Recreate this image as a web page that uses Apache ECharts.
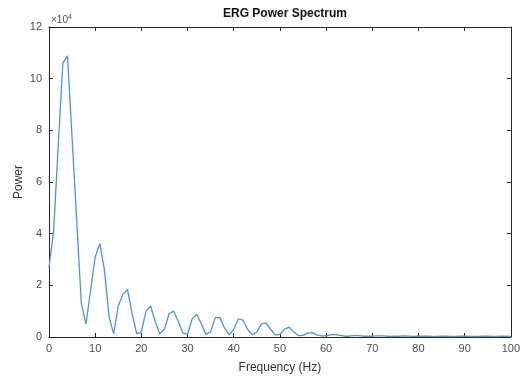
<!DOCTYPE html>
<html>
<head>
<meta charset="utf-8">
<script src="https://cdn.jsdelivr.net/npm/echarts@6/dist/echarts.min.js"></script>
<style>html,body{margin:0;padding:0;background:#fff;}#c{width:523px;height:379px;}</style>
</head>
<body>
<div id="c"></div>
<script>
// Frequency (Hz)
const freq = [0,1,2,3,4,5,6,7,8,9,10,11,12,13,14,15,16,17,18,19,20,21,22,23,24,25,26,27,28,29,30,31,32,33,34,35,36,37,38,39,40,41,42,43,44,45,46,47,48,49,50,51,52,53,54,55,56,57,58,59,60,61,62,63,64,65,66,67,68,69,70,71,72,73,74,75,76,77,78,79,80,81,82,83,84,85,86,87,88,89,90,91,92,93,94,95,96,97,98,99,100];
// Power
const power = [27000,41000,74000,106000,108800,77000,45000,13000,5000,18000,31000,36200,26000,8000,1200,12000,16500,18400,9000,1200,2000,10000,12000,6000,1200,3000,9000,10000,6000,1500,1000,7000,8800,5000,1000,2000,7500,7500,3500,800,3000,7000,6500,3000,800,2000,5000,5500,3000,800,1000,3000,3800,2000,500,600,1500,1700,800,400,400,800,1000,600,300,300,500,500,300,300,300,400,400,300,200,300,300,400,300,200,300,300,300,200,200,300,300,200,200,300,300,200,200,200,300,300,200,200,300,300,200];
const xTicks = [0,10,20,30,40,50,60,70,80,90,100];
const yTicks = [0,2,4,6,8,10,12];
const yExp = 4;

const chart = echarts.init(document.getElementById('c'));
const axisCol = '#262626';
const labCol = '#4d4d4d';
const font = 'Liberation Sans, Arial';
const data = freq.map((f,i)=>[f,power[i]]);
const line = {show:true,onZero:false,lineStyle:{color:axisCol,width:1}};
const tick = {show:true,inside:true,length:4,lineStyle:{color:axisCol}};
chart.setOption({
  animation:false,
  backgroundColor:'#fff',
  title:{text:'ERG Power Spectrum',left:280,top:3,textAlign:'center',
    textStyle:{fontSize:12,fontWeight:'bold',color:'#111',fontFamily:font}},
  grid:{left:49,right:11,top:27,bottom:42},
  xAxis:[{
    type:'value',min:0,max:100,interval:10,position:'bottom',
    name:'Frequency (Hz)',nameLocation:'middle',nameGap:25,nameMoveOverlap:false,
    nameTextStyle:{fontSize:12,color:'#333',fontFamily:font},
    axisLine:line,axisTick:tick,
    axisLabel:{color:labCol,fontSize:11,margin:6,fontFamily:font,
      formatter:v=>xTicks.includes(v)?String(v):''},
    splitLine:{show:false}
  },{
    type:'value',min:0,max:100,interval:10,position:'top',
    axisLine:line,axisTick:tick,
    axisLabel:{show:false},splitLine:{show:false}
  }],
  yAxis:[{
    type:'value',min:0,max:120000,interval:20000,position:'left',
    name:'Power',nameLocation:'middle',nameGap:24,nameMoveOverlap:false,
    nameTextStyle:{fontSize:12,color:'#333',fontFamily:font},
    axisLine:line,axisTick:tick,
    axisLabel:{color:labCol,fontSize:11,margin:7,fontFamily:font,
      formatter:v=>yTicks.includes(v/Math.pow(10,yExp))?String(v/Math.pow(10,yExp)):''},
    splitLine:{show:false}
  },{
    type:'value',min:0,max:120000,interval:20000,position:'right',
    axisLine:line,axisTick:tick,
    axisLabel:{show:false},splitLine:{show:false}
  }],
  graphic:[{
    type:'text',left:51,top:14,
    style:{text:'{a|\u00d710}{b|'+yExp+'}',
      rich:{a:{fontSize:10,fill:labCol,fontFamily:font},
            b:{fontSize:7,fill:labCol,verticalAlign:'top',padding:[0,0,6,0],fontFamily:font}}}
  }],
  series:[{
    type:'line',data:data,showSymbol:false,symbol:'none',
    lineStyle:{color:'#4e98c2',width:1.3},
    xAxisIndex:0,yAxisIndex:0
  },{
    type:'line',data:[],showSymbol:false,symbol:'none',
    xAxisIndex:1,yAxisIndex:1
  }]
});
</script>
</body>
</html>
